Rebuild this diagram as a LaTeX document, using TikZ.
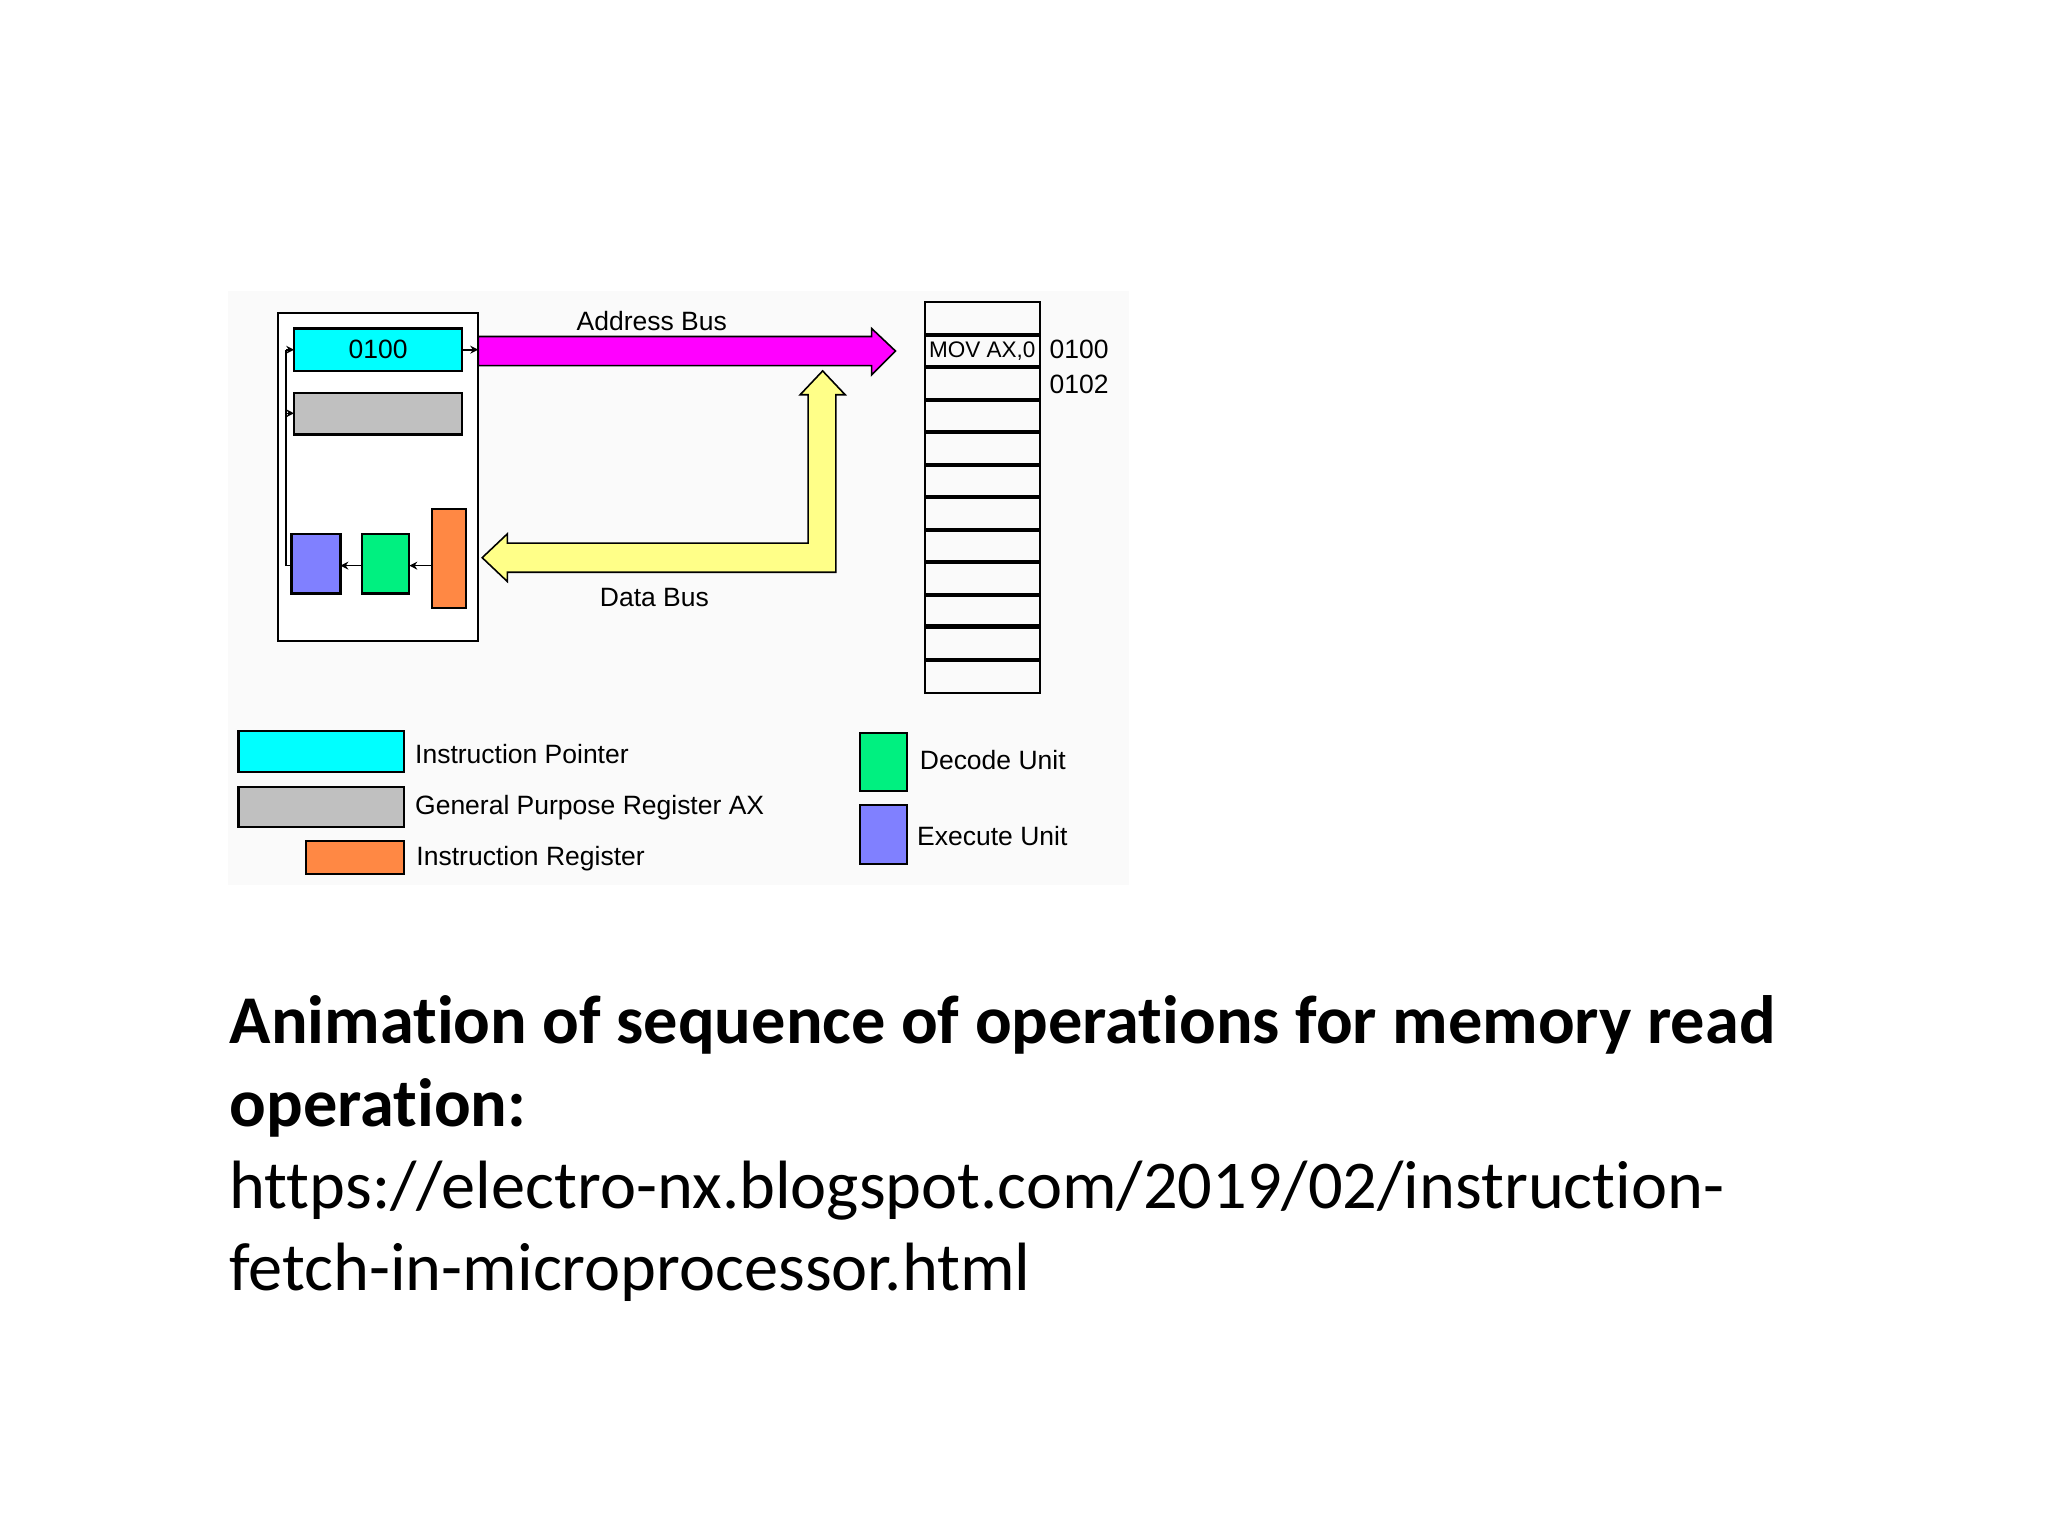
\documentclass[tikz,border=0pt]{standalone}
\usepackage{fontspec}
\setmainfont{Liberation Sans}
\newfontfamily\capfont[Ligatures=NoCommon]{Carlito}
\usetikzlibrary{arrows.meta}
\definecolor{cy}{HTML}{00FFFF}
\definecolor{gr}{HTML}{C0C0C0}
\definecolor{og}{HTML}{FF8844}
\definecolor{dg}{HTML}{00F080}
\definecolor{bl}{HTML}{8080FF}
\definecolor{mg}{HTML}{FF00FF}
\definecolor{yl}{HTML}{FFFF88}
\begin{document}
\begin{tikzpicture}[x=0.5pt,y=-0.5pt,
  box/.style={draw=black,line width=0.8pt},
  lbl/.style={anchor=west,inner sep=0,font=\fontsize{10}{12}\selectfont},
  captxt/.style={anchor=base west,inner sep=0,font=\capfont\fontsize{25.8}{31}\selectfont},
  capbold/.style={anchor=base west,inner sep=0,font=\capfont\bfseries\fontsize{25.8}{31}\selectfont},
  sm/.style={-{Stealth[length=3pt,width=3pt]},line width=0.6pt}]
\useasboundingbox (0,0) rectangle (1546,1159);
\fill[white] (0,0) rectangle (1546,1159);
\fill[black!2] (172,220) rectangle (852,668);
% CPU
\draw[box,fill=white] (210,236) rectangle (361,484);
\draw[box,fill=cy] (222,248) rectangle (349,280);
\node[inner sep=0,font=\fontsize{10}{12}\selectfont] (ip) at (285.5,264) {0100};
\draw[box,fill=gr] (222,297) rectangle (349,328);
\draw[box,fill=bl] (220,403) rectangle (257,448);
\draw[box,fill=dg] (273,403) rectangle (309,448);
\draw[box,fill=og] (326,384) rectangle (352,459);
\coordinate (eu) at (220,427);
\coordinate (c1) at (216,427);
\coordinate (c2) at (216,264);
\coordinate (c3) at (216,312);
\coordinate (ipin) at (222,264);
\coordinate (gin) at (222,312);
\draw[line width=0.6pt] (eu) -- (c1) -- (c2);
\draw[sm] (c2) -- (ipin);
\draw[sm] (c3) -- (gin);
\coordinate (du) at (273,427); \coordinate (euR) at (257,427);
\coordinate (ir) at (326,427); \coordinate (duR) at (309,427);
\draw[sm] (du) -- (euR);
\draw[sm] (ir) -- (duR);
\coordinate (ipR) at (349,264); \coordinate (bus) at (361,264);
\draw[sm] (ipR) -- (bus);
% buses
\draw[fill=mg,line width=0.6pt] (361,254) -- (658,254) -- (658,248) -- (676,265) -- (658,283) -- (658,276) -- (361,276) -- cycle;
\draw[fill=yl,line width=0.6pt] (621,280) -- (638,298) -- (631,298) -- (631,432) -- (383,432) -- (383,439) -- (364,421) -- (383,403) -- (383,410) -- (610,410) -- (610,298) -- (604,298) -- cycle;
\node[lbl,anchor=center] (ab) at (492,242) {Address Bus};
\node[lbl,anchor=center] (db) at (494,451) {Data Bus};
% memory
\draw[line width=0.8pt] (698,228) rectangle (785,523);
\foreach \y in {253,277,302,326,351,375,400,424,449,473,498}
  \draw[line width=1.6pt] (698,\y) -- (785,\y);
\node[inner sep=0,font=\fontsize{8.5}{10}\selectfont] (mov) at (741.5,265) {MOV AX,0};
\node[lbl] (a1) at (792,264) {0100};
\node[lbl] (a2) at (792,290) {0102};
% legend
\draw[box,fill=cy] (180,552) rectangle (305,583);
\draw[box,fill=gr] (180,594) rectangle (305,624);
\draw[box,fill=og] (231,635) rectangle (305,660);
\node[lbl] (l1) at (313,569) {Instruction Pointer};
\node[lbl] (l2) at (313,610) {General Purpose Register AX};
\node[lbl] (l3) at (314,648) {Instruction Register};
\draw[box,fill=dg] (649,553) rectangle (685,597);
\draw[box,fill=bl] (649,608) rectangle (685,652);
\node[lbl] (l4) at (694,574) {Decode Unit};
\node[lbl] (l5) at (692,631) {Execute Unit};
% caption
\node[capbold] (t1) at (173,788) {Animation of sequence of operations for memory read};
\node[capbold] (t2) at (173,850) {operation:};
\node[captxt] (t3) at (173,912) {https://electro-nx.blogspot.com/2019/02/instruction-};
\node[captxt] (t4) at (173,974) {fetch-in-microprocessor.html};
\end{tikzpicture}
\end{document}
